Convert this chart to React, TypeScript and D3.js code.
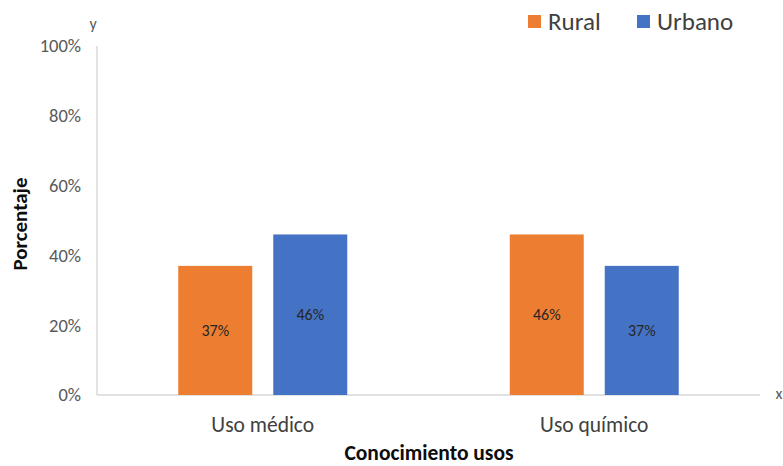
import React from "react";
import * as d3 from "d3";

const categories = ["Uso médico", "Uso químico"];
const seriesNames = ["Rural", "Urbano"];
const rural = [37, 46];
const urbano = [46, 37];
const yTicks = [0, 20, 40, 60, 80, 100];
const colors = ["#ED7D31", "#4472C4"];

const W = 783;
const H = 466;
const left = 97;
const right = 760;
const top = 46;
const bottom = 395;
const font = "Calibri, Carlito, 'Liberation Sans', 'Open Sans', sans-serif";

export default function App() {
  const x = d3.scaleBand<string>().domain(categories).range([left, right]).paddingInner(0).paddingOuter(0);
  const y = d3.scaleLinear().domain([0, 100]).range([bottom, top]);
  const barW = 74;
  const gap = 21;
  const series = [rural, urbano];

  return (
    <svg width={W} height={H} style={{ position: "absolute", left: 0, top: 0, background: "#fff" }}>
      {/* axes */}
      <line x1={left} x2={left} y1={top} y2={bottom} stroke="#d9d9d9" strokeWidth={1.5} />
      <line x1={left} x2={right} y1={bottom} y2={bottom} stroke="#d9d9d9" strokeWidth={1.5} />
      {yTicks.map((t) => (
        <text key={t} x={81} y={y(t)} dy="0.35em" textAnchor="end" fontSize={18.5} fill="#595959" fontFamily={font}>
          {t}%
        </text>
      ))}
      <text x={93} y={23} dy="0.35em" textAnchor="middle" fontSize={16} fill="#595959" fontFamily={font}>y</text>
      <text x={779} y={393} dy="0.35em" textAnchor="middle" fontSize={16} fill="#595959" fontFamily={font}>x</text>

      {/* bars */}
      {categories.map((c, ci) => {
        const cx = (x(c) as number) + x.bandwidth() / 2;
        return series.map((s, si) => {
          const bx = cx - gap / 2 - barW + si * (barW + gap);
          const v = s[ci];
          return (
            <g key={c + si}>
              <rect x={bx} y={y(v)} width={barW} height={bottom - y(v)} fill={colors[si]} />
              <text x={bx + barW / 2} y={(y(v) + bottom) / 2} dy="0.35em" textAnchor="middle" fontSize={16} fill="#262626" fontFamily={font}>
                {v}%
              </text>
            </g>
          );
        });
      })}

      {/* category labels */}
      {categories.map((c) => (
        <text key={c} x={(x(c) as number) + x.bandwidth() / 2} y={424} dy="0.35em" textAnchor="middle" fontSize={21.5} fill="#404040" fontFamily={font}>
          {c}
        </text>
      ))}

      <text x={429} y={452} dy="0.35em" textAnchor="middle" fontSize={21.5} fontWeight="bold" fill="#0d0d0d" fontFamily={font}>
        Conocimiento usos
      </text>
      <text transform={`translate(20,224) rotate(-90)`} dy="0.35em" textAnchor="middle" fontSize={21} fontWeight="bold" fill="#0d0d0d" fontFamily={font}>
        Porcentaje
      </text>

      {/* legend */}
      {seriesNames.map((n, i) => {
        const lx = [528, 637][i];
        return (
          <g key={n}>
            <rect x={lx} y={15} width={13} height={13} fill={colors[i]} />
            <text x={lx + 20} y={21.5} dy="0.35em" fontSize={25} fill="#404040" fontFamily={font}>{n}</text>
          </g>
        );
      })}
    </svg>
  );
}
